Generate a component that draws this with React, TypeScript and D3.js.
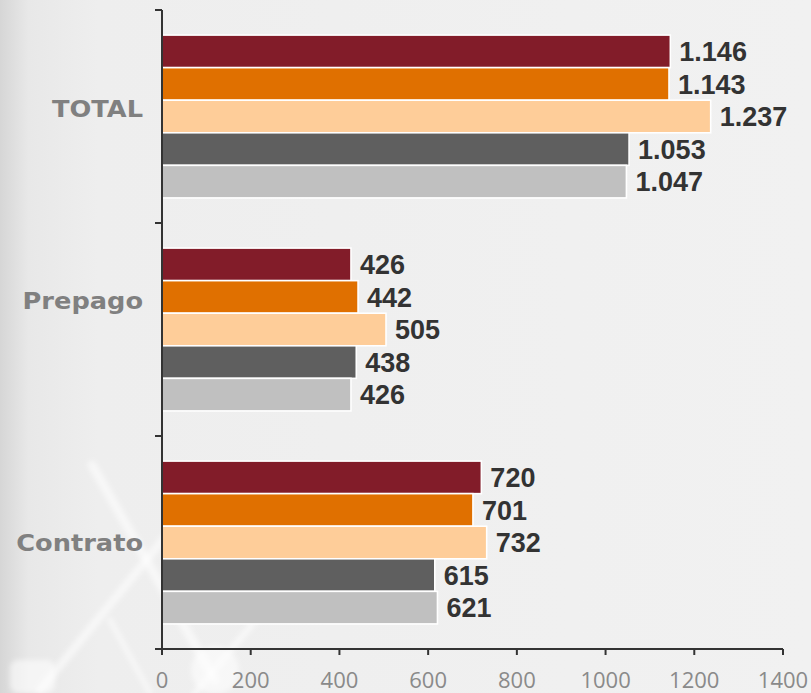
import React from "react";
import * as d3 from "d3";

const categories = ["TOTAL", "Prepago", "Contrato"];
const seriesNames = ["S1", "S2", "S3", "S4", "S5"];
const s1 = [1146, 426, 720];
const s2 = [1143, 442, 701];
const s3 = [1237, 505, 732];
const s4 = [1053, 438, 615];
const s5 = [1047, 426, 621];
const seriesValues = [s1, s2, s3, s4, s5];
const xTicks = [0, 200, 400, 600, 800, 1000, 1200, 1400];

const colors = ["#821c29", "#e07000", "#fecd99", "#5f5f5f", "#c0c0c0"];
const catLabelDy = [-8, -29, 0];

const W = 811;
const H = 693;
const X0 = 162;
const X1 = 783;
const Y0 = 10;
const Y1 = 649;

const locale = d3.formatLocale({ decimal: ",", thousands: ".", grouping: [3], currency: ["", ""] });
const fmt = locale.format(",d");

export default function App() {
  const x = d3.scaleLinear().domain([0, 1400]).range([X0, X1]);
  const y = d3.scaleBand<string>().domain(categories).range([Y0, Y1]).paddingInner(0).paddingOuter(0);
  const inner = d3
    .scaleBand<string>()
    .domain(seriesNames)
    .range([0, y.bandwidth()])
    .paddingInner(0)
    .paddingOuter(0.77);

  return (
    <svg
      width={W}
      height={H}
      style={{ position: "absolute", left: 0, top: 0, display: "block" }}
    >
      <defs>
        <linearGradient id="bg" x1="0" x2="1" y1="0" y2="0">
          <stop offset="0" stopColor="#d6d6d6" />
          <stop offset="0.035" stopColor="#e8e8e8" />
          <stop offset="0.12" stopColor="#eeeeee" />
          <stop offset="1" stopColor="#f1f1f1" />
        </linearGradient>
        <filter id="blur" x="-20%" y="-20%" width="140%" height="140%">
          <feGaussianBlur stdDeviation="2.5" />
        </filter>
      </defs>
      <rect x={0} y={0} width={W} height={H} fill="url(#bg)" />
      <g filter="url(#blur)" stroke="#ffffff" strokeOpacity={0.55} strokeLinecap="round" fill="none">
        <line x1={92} y1={465} x2={215} y2={680} strokeWidth={9} />
        <line x1={40} y1={690} x2={175} y2={525} strokeWidth={8} />
        <line x1={195} y1={693} x2={260} y2={615} strokeWidth={6} />
        <line x1={110} y1={620} x2={150} y2={693} strokeWidth={5} />
      </g>
      <g filter="url(#blur)" fill="#ffffff" fillOpacity={0.55}>
        <rect x={10} y={660} width={45} height={33} rx={8} />
        <circle cx={215} cy={670} r={24} />
      </g>

      {categories.map((c, ci) => (
        <g key={c} transform={`translate(0,${y(c)})`}>
          {seriesNames.map((s, si) => {
            const v = seriesValues[si][ci];
            const by = inner(s) as number;
            const bh = inner.bandwidth();
            return (
              <g key={s}>
                <rect
                  x={x(0)}
                  y={by}
                  width={x(v) - x(0)}
                  height={bh}
                  fill={colors[si]}
                  stroke="#ffffff"
                  strokeWidth={1.6}
                />
                <text
                  x={x(v) + 9}
                  y={by + bh / 2 + 9.7}
                  fontFamily="'Liberation Sans', Arial, sans-serif"
                  fontWeight="bold"
                  fontSize={27}
                  fill="#333333"
                >
                  {fmt(v)}
                </text>
              </g>
            );
          })}
          <text
            transform={`translate(143,${y.bandwidth() / 2 + catLabelDy[ci] + 8.2}) scale(1.14,1)`}
            textAnchor="end"
            fontFamily="'DejaVu Sans', Verdana, sans-serif"
            fontWeight="bold"
            fontSize={22.5}
            fill="#808080"
          >
            {c}
          </text>
        </g>
      ))}

      {/* y axis */}
      <line x1={X0} y1={Y0} x2={X0} y2={Y1} stroke="#333333" strokeWidth={2} />
      {[...categories.map((c) => y(c) as number), Y1].map((t, i) => (
        <line key={i} x1={X0 - 7} y1={t} x2={X0} y2={t} stroke="#333333" strokeWidth={2} />
      ))}
      {/* x axis */}
      <line x1={X0 - 7} y1={Y1} x2={X1} y2={Y1} stroke="#333333" strokeWidth={2} />
      {xTicks.map((t) => (
        <g key={t}>
          <line x1={x(t)} y1={Y1} x2={x(t)} y2={Y1 + 6} stroke="#333333" strokeWidth={2} />
          <text
            x={x(t)}
            y={688}
            textAnchor="middle"
            fontFamily="'Open Sans', sans-serif"
            fontSize={22}
            fill="#8a8a8a"
          >
            {t}
          </text>
        </g>
      ))}
    </svg>
  );
}
